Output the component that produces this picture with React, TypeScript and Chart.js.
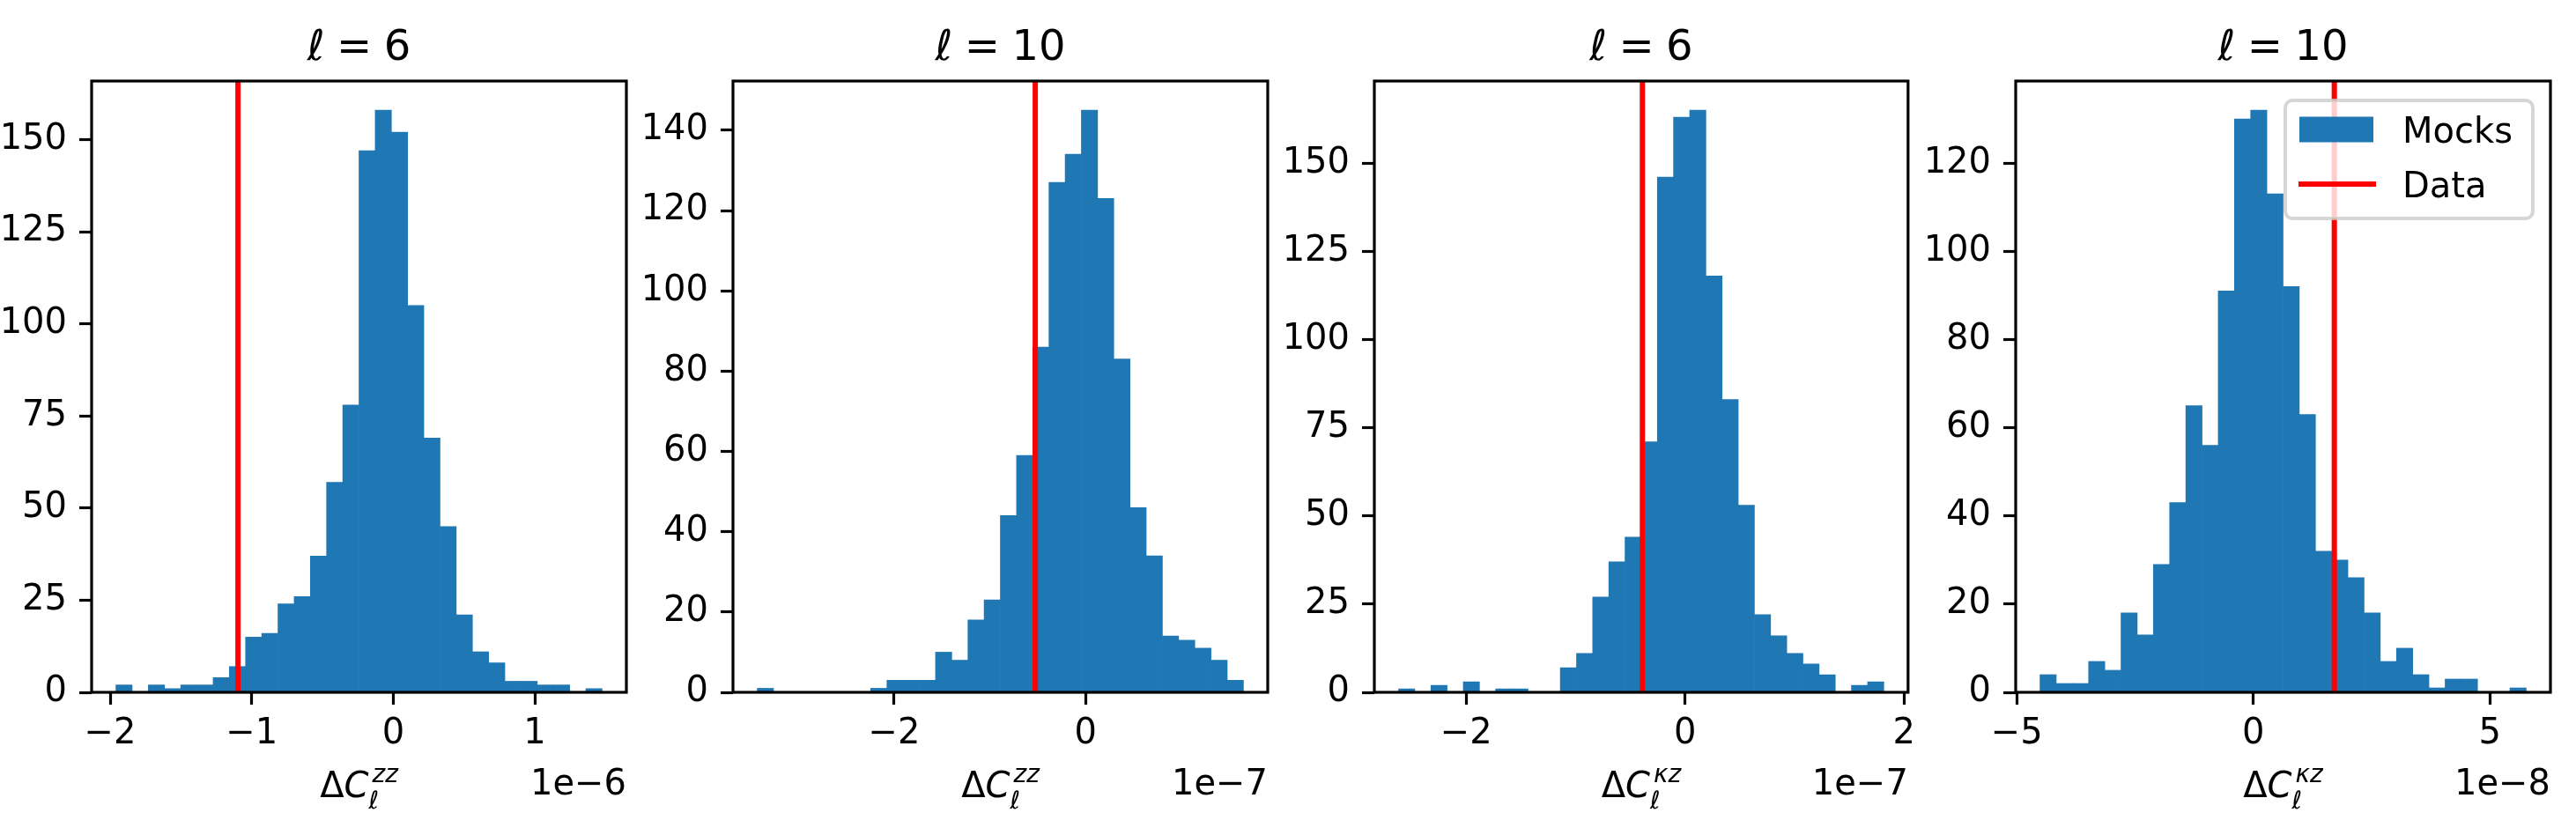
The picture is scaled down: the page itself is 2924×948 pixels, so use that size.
import React, { useEffect, useRef } from "react";
import { Chart, registerables } from "chart.js";

Chart.register(...registerables);

const FAMILY = '"DejaVu Sans", "Noto Sans", sans-serif';
const TICK_SIZE = 40;
const TITLE_SIZE = 48;
const LABEL_SIZE = 40;
const LEGEND_SIZE = 40;

const BAR_COLOR = "#1f77b4";
const LINE_COLOR = "#ff0000";

// multipole of each panel (title)
const ellValues = ["6", "10", "6", "10"];
// superscript of the plotted spectrum difference
const spectrumTags = ["zz", "zz", "κz", "κz"];
// x values are given in units of 10^exponent
const exponents = [-6, -7, -7, -8];

// histogram range [lowest edge, highest edge], 30 equal-width bins each
const binRanges = [
  [-1.959, 1.475],
  [-3.429, 1.648],
  [-2.618, 1.816],
  [-4.509, 5.765],
];

// mock counts per bin
const countsZZ6 = [2, 0, 2, 1, 2, 2, 4, 7, 15, 16, 24, 26, 37, 57, 78, 147, 158, 152, 105, 69, 45, 21, 11, 8, 3, 3, 2, 2, 0, 1];
const countsZZ10 = [1, 0, 0, 0, 0, 0, 0, 1, 3, 3, 3, 10, 8, 18, 23, 44, 59, 86, 127, 134, 145, 123, 83, 46, 34, 14, 13, 11, 8, 3];
const countsKZ6 = [1, 0, 2, 0, 3, 0, 1, 1, 0, 0, 7, 11, 27, 37, 44, 71, 146, 163, 165, 118, 83, 53, 22, 16, 11, 8, 5, 0, 2, 3];
const countsKZ10 = [4, 2, 2, 7, 5, 18, 13, 29, 43, 65, 56, 91, 130, 132, 113, 92, 63, 32, 30, 26, 18, 7, 10, 4, 1, 3, 3, 0, 0, 1];
const panelCounts = [countsZZ6, countsZZ10, countsKZ6, countsKZ10];

// measured value from the data
const dataValues = [-1.097, -0.526, -0.39, 1.711];

const xTickValues = [
  [-2, -1, 0, 1],
  [-2, 0],
  [-2, 0, 2],
  [-5, 0, 5],
];
const yTickValues = [
  [0, 25, 50, 75, 100, 125, 150],
  [0, 20, 40, 60, 80, 100, 120, 140],
  [0, 25, 50, 75, 100, 125, 150],
  [0, 20, 40, 60, 80, 100, 120],
];

const PANEL_W = 728;
const PANEL_H = 948;

const fontStr = (size: number, italic = false) =>
  `${italic ? "italic " : ""}${size}px ${FAMILY}`;

const fmtTick = (v: number) => (v < 0 ? "\u2212" + Math.abs(v) : String(v));

function makeDecor(index: number) {
  return {
    id: "decor",
    afterDatasetsDraw(chart: any) {
      const { ctx, chartArea: a } = chart;
      ctx.save();
      ctx.strokeStyle = "#000";
      ctx.lineWidth = 3.2;
      ctx.lineJoin = "miter";
      ctx.strokeRect(a.left, a.top, a.right - a.left, a.bottom - a.top);
      ctx.restore();
    },
    afterDraw(chart: any) {
      const { ctx, chartArea: a } = chart;
      const cx = (a.left + a.right) / 2;
      ctx.save();
      ctx.fillStyle = "#000";
      ctx.textBaseline = "alphabetic";
      ctx.textAlign = "left";

      // title: ℓ = N
      const F = TITLE_SIZE;
      const gap = 0.28 * F;
      ctx.font = fontStr(F, true);
      const wEll = ctx.measureText("ℓ").width;
      ctx.font = fontStr(F);
      const wEq = ctx.measureText("=").width;
      const wNum = ctx.measureText(ellValues[index]).width;
      let tx = cx - (wEll + gap + wEq + gap + wNum) / 2;
      const tBase = a.top - 24;
      ctx.font = fontStr(F, true);
      ctx.fillText("ℓ", tx, tBase);
      tx += wEll + gap;
      ctx.font = fontStr(F);
      ctx.fillText("=", tx, tBase);
      tx += wEq + gap;
      ctx.fillText(ellValues[index], tx, tBase);

      // x label: ΔC_ℓ^{tag}
      const L = LABEL_SIZE;
      const s = 0.7 * L;
      const lBase = a.bottom + 119;
      ctx.font = fontStr(L);
      const wD = ctx.measureText("Δ").width;
      ctx.font = fontStr(L, true);
      const wC = ctx.measureText("C").width;
      ctx.font = fontStr(s, true);
      const wSub = ctx.measureText("ℓ").width;
      const wSup = ctx.measureText(spectrumTags[index]).width;
      const supDx = 0.1 * L;
      const total = wD + wC + Math.max(wSub, wSup + supDx);
      let lx = cx - total / 2;
      ctx.font = fontStr(L);
      ctx.fillText("Δ", lx, lBase);
      lx += wD;
      ctx.font = fontStr(L, true);
      ctx.fillText("C", lx, lBase);
      lx += wC;
      ctx.font = fontStr(s, true);
      ctx.fillText("ℓ", lx, lBase + 0.33 * L);
      ctx.fillText(spectrumTags[index], lx + supDx, lBase - 0.42 * L);

      // scale factor of the x axis
      ctx.font = fontStr(TICK_SIZE);
      ctx.textAlign = "right";
      ctx.fillText("1e\u2212" + Math.abs(exponents[index]), a.right, a.bottom + 116);

      // legend in the last panel
      if (index === 3) {
        const bw = 281;
        const bh = 134;
        const bx = a.right - 20 - bw;
        const by = a.top + 22;
        ctx.beginPath();
        ctx.roundRect(bx, by, bw, bh, 8);
        ctx.fillStyle = "rgba(255,255,255,0.8)";
        ctx.fill();
        ctx.strokeStyle = "rgba(204,204,204,0.8)";
        ctx.lineWidth = 4;
        ctx.stroke();

        const row1 = by + 33;
        const row2 = by + 95;
        ctx.fillStyle = BAR_COLOR;
        ctx.fillRect(bx + 16, row1 - 14.5, 84, 29);
        ctx.strokeStyle = LINE_COLOR;
        ctx.lineWidth = 6;
        ctx.beginPath();
        ctx.moveTo(bx + 15, row2);
        ctx.lineTo(bx + 103, row2);
        ctx.stroke();

        ctx.fillStyle = "#000";
        ctx.textAlign = "left";
        ctx.font = fontStr(LEGEND_SIZE);
        ctx.fillText("Mocks", bx + 133, row1 + 0.365 * LEGEND_SIZE);
        ctx.fillText("Data", bx + 133, row2 + 0.365 * LEGEND_SIZE);
      }
      ctx.restore();
    },
  };
}

function Panel({ index }: { index: number }) {
  const ref = useRef<HTMLCanvasElement>(null);

  useEffect(() => {
    const canvas = ref.current;
    if (!canvas) return;
    const counts = panelCounts[index];
    const [lo, hi] = binRanges[index];
    const width = (hi - lo) / counts.length;
    const bars = counts.map((c, i) => ({ x: lo + (i + 0.5) * width, y: c }));
    const span = hi - lo;
    const xMin = lo - 0.05 * span;
    const xMax = hi + 0.05 * span;
    const yMax = Math.max(...counts) * 1.05;
    const v = dataValues[index];

    const tickFont = { family: FAMILY, size: TICK_SIZE };

    const chart = new Chart(canvas, {
      type: "bar",
      data: {
        datasets: [
          {
            type: "line",
            label: "Data",
            data: [
              { x: v, y: 0 },
              { x: v, y: yMax },
            ],
            borderColor: LINE_COLOR,
            borderWidth: 6,
            pointRadius: 0,
            order: 0,
          } as any,
          {
            type: "bar",
            label: "Mocks",
            data: bars,
            backgroundColor: BAR_COLOR,
            borderWidth: 0,
            barPercentage: 1,
            categoryPercentage: 1,
            order: 1,
          } as any,
        ],
      },
      options: {
        animation: false,
        responsive: false,
        maintainAspectRatio: false,
        devicePixelRatio: 1,
        layout: { padding: { left: 0, right: PANEL_W - 711, top: 92, bottom: 0 } },
        plugins: {
          legend: { display: false },
          tooltip: { enabled: false },
          title: { display: false },
        },
        scales: {
          x: {
            type: "linear",
            min: xMin,
            max: xMax,
            offset: false,
            grid: {
              display: true,
              offset: false,
              drawOnChartArea: false,
              drawTicks: true,
              tickLength: 14,
              tickWidth: 3.2,
              tickColor: "#000",
            },
            border: { display: false },
            ticks: {
              font: tickFont,
              color: "#000",
              padding: 10,
              maxRotation: 0,
              autoSkip: false,
              callback: (val: any) => fmtTick(Number(val)),
            },
            afterBuildTicks: (scale: any) => {
              scale.ticks = xTickValues[index].map((t) => ({ value: t }));
            },
            afterFit: (scale: any) => {
              scale.height = PANEL_H - 786;
            },
          },
          y: {
            type: "linear",
            min: 0,
            max: yMax,
            grid: {
              display: true,
              drawOnChartArea: false,
              drawTicks: true,
              tickLength: 14,
              tickWidth: 3.2,
              tickColor: "#000",
            },
            border: { display: false },
            ticks: {
              font: tickFont,
              color: "#000",
              padding: 14,
              autoSkip: false,
              callback: (val: any) => String(val),
            },
            afterBuildTicks: (scale: any) => {
              scale.ticks = yTickValues[index].map((t) => ({ value: t }));
            },
            afterFit: (scale: any) => {
              scale.width = 104;
            },
          },
        },
      } as any,
      plugins: [makeDecor(index)],
    });

    return () => chart.destroy();
  }, [index]);

  return (
    <canvas
      ref={ref}
      width={PANEL_W}
      height={PANEL_H}
      style={{
        position: "absolute",
        left: index * PANEL_W,
        top: 0,
        width: PANEL_W,
        height: PANEL_H,
      }}
    />
  );
}

export default function App() {
  return (
    <div
      style={{
        position: "fixed",
        left: 0,
        top: 0,
        width: 2924,
        height: 948,
        background: "#fff",
        overflow: "hidden",
      }}
    >
      {[0, 1, 2, 3].map((i) => (
        <Panel key={i} index={i} />
      ))}
    </div>
  );
}
